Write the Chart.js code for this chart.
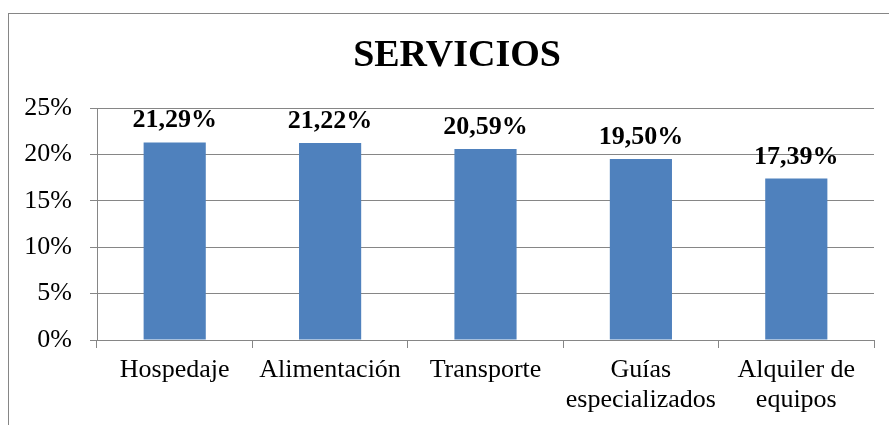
<!DOCTYPE html>
<html>
<head>
<meta charset="utf-8">
<script src="https://cdn.jsdelivr.net/npm/chart.js@4"></script>
<style>
  html, body { margin: 0; padding: 0; background: #fff; overflow: hidden; }
  #wrap { position: relative; width: 906px; height: 440px; }
</style>
</head>
<body>
<div id="wrap"><canvas id="chart"></canvas></div>
<script>
const categories = ["Hospedaje", "Alimentación", "Transporte", ["Guías", "especializados"], ["Alquiler de", "equipos"]];
const values = [21.29, 21.22, 20.59, 19.50, 17.39];
const yTicks = [0, 5, 10, 15, 20, 25];

const SERIF = "'Liberation Serif', 'Times New Roman', serif";
const GRID = "#868686";
const BAR = "#4F81BD";

// outer frame + title
const framePlugin = {
  id: "frame",
  beforeDraw(chart) {
    const { ctx } = chart;
    ctx.save();
    ctx.strokeStyle = GRID;
    ctx.lineWidth = 1;
    ctx.strokeRect(8.5, 13.5, 1000, 600);
    ctx.fillStyle = "#000";
    ctx.font = `bold 38px ${SERIF}`;
    ctx.textAlign = "center";
    ctx.textBaseline = "middle";
    ctx.fillText("SERVICIOS", 457, 56);
    ctx.restore();
  },
};

// value labels above each bar
const valueLabels = {
  id: "valueLabels",
  afterDatasetsDraw(chart) {
    const { ctx } = chart;
    const meta = chart.getDatasetMeta(0);
    ctx.save();
    ctx.fillStyle = "#000";
    ctx.font = `bold 26px ${SERIF}`;
    ctx.textAlign = "center";
    ctx.textBaseline = "alphabetic";
    meta.data.forEach((bar, i) => {
      const txt = values[i].toFixed(2).replace(".", ",") + "%";
      ctx.fillText(txt, bar.x, bar.y - 15);
    });
    ctx.restore();
  },
};

new Chart(document.getElementById("chart"), {
  type: "bar",
  data: {
    labels: categories,
    datasets: [{
      data: values,
      backgroundColor: BAR,
      borderWidth: 0,
      categoryPercentage: 1,
      barPercentage: 0.4,
    }],
  },
  plugins: [framePlugin, valueLabels],
  options: {
    responsive: true,
    maintainAspectRatio: false,
    animation: false,
    devicePixelRatio: 1,
    layout: { padding: { top: 108, left: 0, right: 32, bottom: 0 } },
    plugins: {
      legend: { display: false },
      tooltip: { enabled: false },
      title: { display: false },
    },
    scales: {
      y: {
        min: 0,
        max: 25,
        afterBuildTicks: (scale) => { scale.ticks = yTicks.map((v) => ({ value: v })); },
        afterFit: (scale) => { scale.width = 97; },
        ticks: {
          color: "#000",
          padding: 18,
          font: { family: SERIF, size: 26 },
          callback: (v) => v + "%",
        },
        grid: { color: GRID, tickLength: 7, drawTicks: true },
        border: { display: true, color: GRID },
      },
      x: {
        afterFit: (scale) => { scale.height = 100; },
        ticks: {
          color: "#000",
          padding: 8,
          maxRotation: 0,
          autoSkip: false,
          font: { family: SERIF, size: 26, lineHeight: 1.12 },
        },
        grid: { drawOnChartArea: false, drawTicks: true, tickLength: 8, color: GRID, offset: true },
        border: { display: true, color: GRID },
      },
    },
  },
});
</script>
</body>
</html>
